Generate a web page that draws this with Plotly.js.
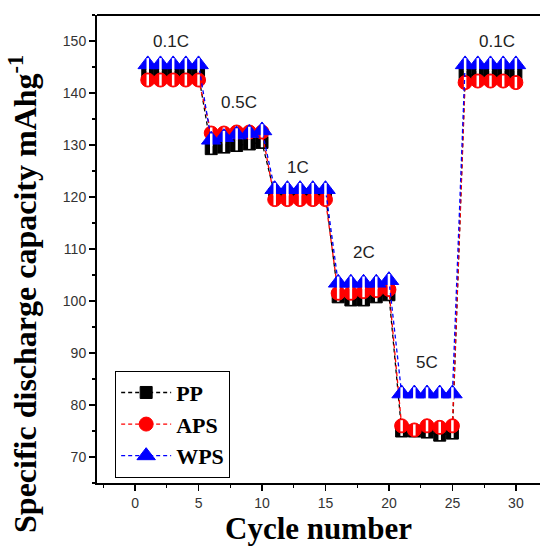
<!DOCTYPE html>
<html><head><meta charset="utf-8">
<script src="https://cdn.plot.ly/plotly-3.0.1.min.js"></script>
<style>html,body{margin:0;padding:0;background:#fff}#chart{width:540px;height:547px}</style>
</head><body><div id="chart"></div>
<script>
const cycles = [1,2,3,4,5,6,7,8,9,10,11,12,13,14,15,16,17,18,19,20,21,22,23,24,25,26,27,28,29,30];
const ppCapacity = [143.5,143.5,143.5,143.5,143.5, 129.3,129.6,129.9,130.2,130.5, 120.5,120.5,120.5,120.5,120.5, 100.8,100.2,100.2,100.8,101.2, 75.0,75.0,74.8,74.2,74.6, 143.5,143.5,143.5,143.5,143.5];
const apsCapacity = [142.5,142.5,142.5,142.5,142.5, 132.3,132.3,132.5,132.5,132.5, 119.5,119.5,119.5,119.5,119.5, 101.5,101.5,101.8,102.0,102.2, 76.0,75.2,76.0,75.7,76.0, 142.0,142.3,142.3,142.3,142.0];
const wpsCapacity = [145.5,145.5,145.5,145.5,145.5, 131.0,131.5,132.0,132.3,132.8, 121.5,121.5,121.5,121.5,121.5, 103.5,103.5,103.5,103.5,104.0, 82.2,82.2,82.2,82.2,82.2, 145.5,145.5,145.5,145.5,145.5];
const seriesNames = ['PP','APS','WPS'];
const rateLabels = ['0.1C','0.5C','1C','2C','5C','0.1C'];

const seriesData = [ppCapacity, apsCapacity, wpsCapacity];
const seriesColors = ['#000000','#ff0000','#0000ff'];
const seriesSymbols = ['square','circle','triangle-up'];
const seriesSizes = [12,14,17];
const rateLabelPos = [[2.8,150],[8.2,138.1],[12.85,125.7],[18.05,109.4],[23.0,88.1],[28.5,150]];

const traces = [];
seriesData.forEach((ys,i)=>{
  traces.push({
    x: cycles, y: ys, name: seriesNames[i], type:'scatter', mode:'lines+markers',
    line:{color:seriesColors[i], width:1.3, dash:'4px,3px'},
    marker:{symbol:seriesSymbols[i], size:seriesSizes[i], color:seriesColors[i], line:{color:seriesColors[i], width:1}}
  });
  traces.push({
    x: cycles, y: ys, name: seriesNames[i]+' fill', type:'scatter', mode:'markers', showlegend:false, hoverinfo:'skip',
    marker:{symbol:'line-ns-open', size:Math.round(seriesSizes[i]*0.55), color:'#ffffff', line:{width:2.5}}
  });
});

const annotations = rateLabels.map((t,i)=>({
  x: rateLabelPos[i][0], y: rateLabelPos[i][1], xref:'x', yref:'y', text:t, showarrow:false,
  font:{family:'Liberation Sans, Arial, sans-serif', size:17, color:'#222'}
}));
annotations.push({
  xref:'paper', yref:'paper', x:-0.166, y:0.405, xanchor:'center', yanchor:'middle', textangle:-90,
  text:'<b>Specific discharge capacity mAhg<sup>-1</sup></b>', showarrow:false,
  font:{family:'Liberation Serif, Times New Roman, serif', size:32, color:'#000'}
});

const layout = {
  width:540, height:547,
  margin:{l:97, r:0, t:15, b:64},
  paper_bgcolor:'#fff', plot_bgcolor:'#fff',
  showlegend:true,
  legend:{x:0.041, y:0.24, xanchor:'left', yanchor:'top', bordercolor:'#000', borderwidth:1, bgcolor:'#fff',
    font:{family:'Liberation Serif, Times New Roman, serif', size:22, color:'#000', weight:'bold'}, tracegroupgap:0, itemwidth:50},
  xaxis:{range:[-3,31.9], tickmode:'linear', tick0:0, dtick:5, ticks:'outside', ticklen:6, tickwidth:1.5, tickcolor:'#000',
    showline:true, linecolor:'#000', linewidth:2, mirror:false, showgrid:false, zeroline:false,
    minor:{dtick:2.5, tick0:0, ticks:'outside', ticklen:3, tickcolor:'#000', tickwidth:1.2},
    tickfont:{family:'Liberation Sans, Arial, sans-serif', size:14, color:'#333'},
    title:{text:'<b>Cycle number</b>', font:{family:'Liberation Serif, Times New Roman, serif', size:31, color:'#000'}, standoff:8}},
  yaxis:{range:[65,155], tickmode:'linear', tick0:70, dtick:10, ticks:'outside', ticklen:6, tickwidth:1.5, tickcolor:'#000',
    showline:true, linecolor:'#000', linewidth:2, mirror:false, showgrid:false, zeroline:false,
    minor:{dtick:5, tick0:70, ticks:'outside', ticklen:3, tickcolor:'#000', tickwidth:1.2},
    tickfont:{family:'Liberation Sans, Arial, sans-serif', size:14, color:'#333'}},
  shapes:[{type:'line', xref:'paper', yref:'paper', x0:0, x1:1, y0:1, y1:1, line:{color:'#000', width:2}}],
  annotations: annotations
};
Plotly.newPlot('chart', traces, layout, {displayModeBar:false, staticPlot:true});
</script></body></html>
